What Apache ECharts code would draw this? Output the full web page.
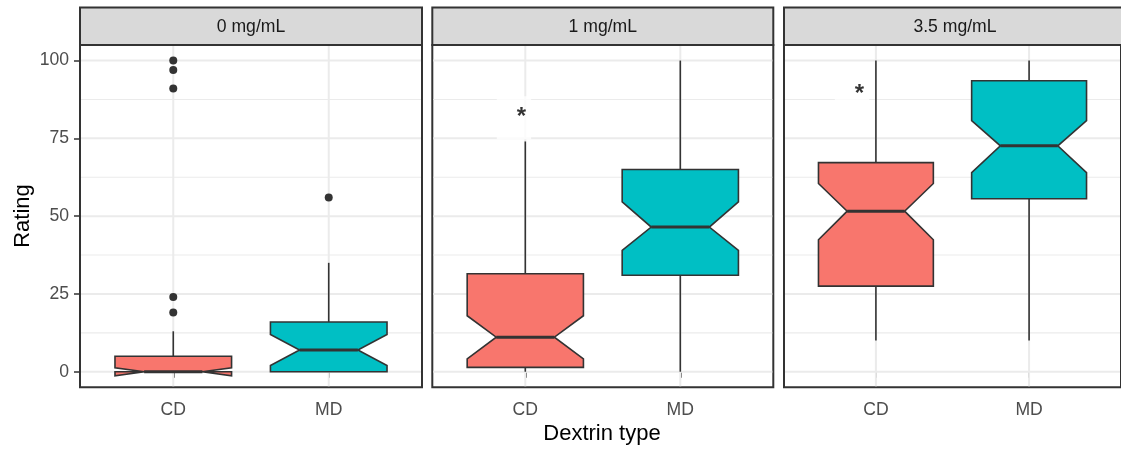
<!DOCTYPE html>
<html>
<head>
<meta charset="utf-8">
<script src="https://cdn.jsdelivr.net/npm/echarts@6/dist/echarts.min.js"></script>
<style>
  html, body { margin: 0; padding: 0; background: #ffffff; }
  #chart { width: 1121px; height: 450px; }
</style>
</head>
<body>
<div id="chart"></div>
<script>
// ---- data ----
const panels = ['0 mg/mL', '1 mg/mL', '3.5 mg/mL'];
const categories = ['CD', 'MD'];
const yTicks = [0, 25, 50, 75, 100];
const yMinorTicks = [12.5, 37.5, 62.5, 87.5];

// Box statistics per group:
// [lowerWhisker, Q1, notchLower, median, notchUpper, Q3, upperWhisker]
const stats0mg = [
  [0, 0, -1.3, 0, 1.3, 5, 13],        // CD
  [0, 0, 2, 7, 12, 16, 35]            // MD
];
const stats1mg = [
  [0, 1.4, 4.1, 11.1, 18, 31.5, 74],  // CD
  [0, 31, 39, 46.5, 54.6, 65, 100]    // MD
];
const stats35mg = [
  [10, 27.5, 42.4, 51.6, 60.5, 67.2, 100], // CD
  [10, 55.6, 64, 72.6, 80.7, 93.5, 100]    // MD
];

// Outliers: [group (1 = CD, 2 = MD), rating]
const outliers0mg = [[1, 100], [1, 97], [1, 91], [1, 24], [1, 19], [2, 56]];
const outliers1mg = [];
const outliers35mg = [];

// Significance marks: [x position, rating]
const signif1mg = [[0.927, 81.6]];
const signif35mg = [[0.844, 89.2]];

// ---- layout ----
const panelLeft = [80, 432.3, 784];
const panelWidth = [342, 341, 342];
const panelTop = 45;
const panelHeight = 342.3;
const stripTop = 7.5;
const fills = ['#F8766D', '#00BFC4'];
const ink = '#333333';
const FONT = '"Liberation Sans", Arial, sans-serif';

const allStats = [stats0mg, stats1mg, stats35mg];
const allOutliers = [outliers0mg, outliers1mg, outliers35mg];
const allSignif = [null, signif1mg, signif35mg];

// notched box, drawn the way a ggplot2 notched boxplot path is built
function renderBox(params, api) {
  const x = api.value(0);
  const lw = api.value(1), q1 = api.value(2), nl = api.value(3), med = api.value(4),
        nu = api.value(5), q3 = api.value(6), uw = api.value(7);
  const half = 0.375, indent = 0.1875;
  const xmin = x - half, xmax = x + half;
  const P = (a, b) => api.coord([a, b]);
  const pts = [
    [xmin, q3], [xmin, nu], [xmin + indent, med], [xmin, nl], [xmin, q1],
    [xmax, q1], [xmax, nl], [xmax - indent, med], [xmax, nu], [xmax, q3]
  ].map(p => P(p[0], p[1]));
  const c = P(x, 0)[0];
  const fill = fills[Math.round(x) - 1];
  return {
    type: 'group',
    children: [
      { type: 'line', shape: { x1: c, y1: P(x, q3)[1], x2: c, y2: P(x, uw)[1] },
        style: { stroke: ink, lineWidth: 1.6 } },
      { type: 'line', shape: { x1: c, y1: P(x, q1)[1], x2: c, y2: P(x, lw)[1] },
        style: { stroke: ink, lineWidth: 1.6 } },
      { type: 'polygon', shape: { points: pts },
        style: { fill: fill, stroke: ink, lineWidth: 1.6, lineJoin: 'miter' } },
      { type: 'line', shape: { x1: P(xmin + indent, med)[0], y1: P(xmin + indent, med)[1],
                               x2: P(xmax - indent, med)[0], y2: P(xmax - indent, med)[1] },
        style: { stroke: ink, lineWidth: 3 } }
    ]
  };
}

// panel background grid
function renderGrid(params, api) {
  const kind = api.value(0), v = api.value(1), major = api.value(2);
  const w = major ? 2 : 1.1;
  if (kind === 0) {
    const a = api.coord([0.4, v]), b = api.coord([2.6, v]);
    return { type: 'line', shape: { x1: a[0] + 1, y1: a[1], x2: b[0] - 1, y2: b[1] },
             style: { stroke: '#EBEBEB', lineWidth: w } };
  }
  const a = api.coord([v, -5]), b = api.coord([v, 105]);
  return { type: 'line', shape: { x1: a[0], y1: a[1] - 1, x2: b[0], y2: b[1] + 1 },
           style: { stroke: '#EBEBEB', lineWidth: w } };
}

const gridItems = []
  .concat(yMinorTicks.map(v => [0, v, 0]))
  .concat(yTicks.map(v => [0, v, 1]))
  .concat(categories.map((c, i) => [1, i + 1, 1]));

const grids = [], xAxes = [], yAxes = [], series = [], graphics = [];

panels.forEach((name, i) => {
  grids.push({
    left: panelLeft[i], top: panelTop, width: panelWidth[i], height: panelHeight,
    show: true, borderColor: ink, borderWidth: 2, backgroundColor: 'transparent'
  });
  xAxes.push({
    gridIndex: i, type: 'value', min: 0.4, max: 2.6,
    axisLine: { show: false },
    splitLine: { show: false },
    axisTick: { show: true, customValues: [1, 2], length: 6, lineStyle: { color: ink, width: 1.5 } },
    axisLabel: {
      customValues: [1, 2], margin: 14,
      formatter: v => categories[Math.round(v) - 1],
      color: '#4D4D4D', fontSize: 17.6, fontFamily: FONT
    }
  });
  yAxes.push({
    gridIndex: i, type: 'value', min: -5, max: 105,
    axisLine: { show: false },
    splitLine: { show: false },
    axisTick: { show: i === 0, customValues: yTicks, length: 6, lineStyle: { color: ink, width: 1.5 } },
    axisLabel: {
      show: i === 0, customValues: yTicks, margin: 11,
      color: '#4D4D4D', fontSize: 17.6, fontFamily: FONT
    }
  });

  series.push({
    type: 'custom', xAxisIndex: i, yAxisIndex: i, z: 1, silent: true,
    renderItem: renderGrid, data: gridItems, clip: true
  });
  series.push({
    type: 'custom', xAxisIndex: i, yAxisIndex: i, z: 3, silent: true,
    renderItem: renderBox,
    data: allStats[i].map((s, g) => [g + 1].concat(s))
  });
  if (allOutliers[i].length) {
    series.push({
      type: 'scatter', xAxisIndex: i, yAxisIndex: i, z: 4, silent: true,
      symbol: 'circle', symbolSize: 8,
      itemStyle: { color: '#333333', opacity: 1 },
      data: allOutliers[i]
    });
  }
  if (allSignif[i]) {
    series.push({
      type: 'scatter', xAxisIndex: i, yAxisIndex: i, z: 5, silent: true,
      symbol: 'circle', symbolSize: 0.01,
      itemStyle: { color: 'transparent' },
      label: {
        show: true, position: 'inside', formatter: '*',
        color: '#000000', fontSize: 24, fontWeight: 'bold', fontFamily: FONT,
        backgroundColor: '#ffffff', padding: [19, 5, 0, 20], lineHeight: 24
      },
      data: allSignif[i]
    });
  }

  // facet strip
  graphics.push({
    type: 'rect', z: 10,
    shape: { x: panelLeft[i], y: stripTop, width: panelWidth[i], height: panelTop - stripTop },
    style: { fill: '#D9D9D9', stroke: ink, lineWidth: 2 }
  });
  graphics.push({
    type: 'text', z: 11,
    style: {
      text: name, x: panelLeft[i] + panelWidth[i] / 2, y: 27.5,
      textAlign: 'center', textVerticalAlign: 'middle',
      font: '17.6px ' + FONT, fill: '#1A1A1A'
    }
  });
});

// axis titles
graphics.push({
  type: 'text', z: 11,
  style: { text: 'Rating', x: 0, y: 0, textAlign: 'center', textVerticalAlign: 'middle',
           font: '22px ' + FONT, fill: '#000000' },
  x: 22.5, y: 216, rotation: Math.PI / 2
});
graphics.push({
  type: 'text', z: 11,
  style: { text: 'Dextrin type', x: 602, y: 434, textAlign: 'center', textVerticalAlign: 'middle',
           font: '22px ' + FONT, fill: '#000000' }
});

const chart = echarts.init(document.getElementById('chart'), null, { renderer: 'canvas' });
chart.setOption({
  animation: false,
  backgroundColor: '#ffffff',
  grid: grids,
  xAxis: xAxes,
  yAxis: yAxes,
  series: series,
  graphic: graphics
});
</script>
</body>
</html>
